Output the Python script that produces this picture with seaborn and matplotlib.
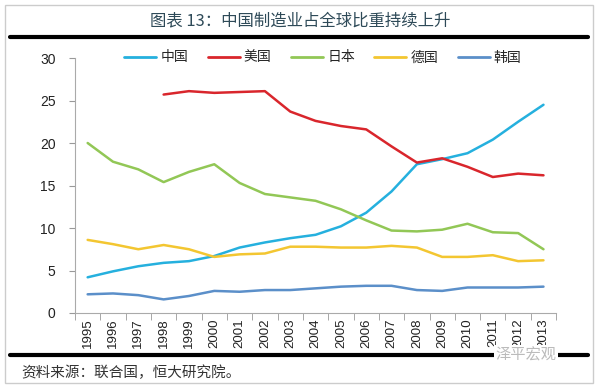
import pandas as pd
import numpy as np
import matplotlib.pyplot as plt
import seaborn as sns
from matplotlib.lines import Line2D
from matplotlib.patches import Rectangle

# 数据
years = [str(y) for y in range(1995, 2014)]
china = [4.2, 4.9, 5.5, 5.9, 6.1, 6.7, 7.7, 8.3, 8.8, 9.2, 10.2, 11.8, 14.3, 17.5, 18.1, 18.8, 20.4, 22.5, 24.5]
usa = [np.nan, np.nan, np.nan, 25.7, 26.1, 25.9, 26.0, 26.1, 23.7, 22.6, 22.0, 21.6, 19.6, 17.7, 18.2, 17.2, 16.0, 16.4, 16.2]
japan = [20.0, 17.8, 16.9, 15.4, 16.6, 17.5, 15.3, 14.0, 13.6, 13.2, 12.2, 10.9, 9.7, 9.6, 9.8, 10.5, 9.5, 9.4, 7.5]
germany = [8.6, 8.1, 7.5, 8.0, 7.5, 6.6, 6.9, 7.0, 7.8, 7.8, 7.7, 7.7, 7.9, 7.7, 6.6, 6.6, 6.8, 6.1, 6.2]
korea = [2.2, 2.3, 2.1, 1.6, 2.0, 2.6, 2.5, 2.7, 2.7, 2.9, 3.1, 3.2, 3.2, 2.7, 2.6, 3.0, 3.0, 3.0, 3.1]

names = ['中国', '美国', '日本', '德国', '韩国']
colors = ['#25b0de', '#d9262c', '#92c756', '#f3c631', '#5b8fc9']

df = pd.DataFrame({'年份': years, '中国': china, '美国': usa, '日本': japan, '德国': germany, '韩国': korea})
long = df.melt(id_vars='年份', var_name='国家', value_name='比重')
long['pos'] = long['年份'].astype(int) - 1995

sns.set_style('white')
plt.rcParams['font.family'] = ['Noto Sans CJK SC', 'DejaVu Sans']

fig = plt.figure(figsize=(5.98, 3.88), dpi=100)
ax = fig.add_axes([0.1254, 0.1933, 0.8046, 0.6572])

sns.lineplot(data=long, x='pos', y='比重', hue='国家', hue_order=names,
             palette=colors, linewidth=1.8, ax=ax, legend=False)

ax.set_xlim(-0.5, 18.5)
ax.set_ylim(0, 30)
ax.set_yticks(range(0, 31, 5))
ax.set_xticks(range(19))
ax.set_xticklabels(years, rotation=90, fontsize=9.5, color='#222222', family='Liberation Sans')
ax.set_xticks(np.arange(-0.5, 19, 1), minor=True)
ax.tick_params(axis='x', which='major', length=0, pad=4)
ax.tick_params(axis='x', which='minor', length=5, color='#999999', direction='out', bottom=True)
ax.tick_params(axis='y', length=4, color='#999999', direction='out', left=True, labelsize=10, pad=10)
for lab in ax.get_yticklabels():
    lab.set_family('Liberation Sans')
    lab.set_color('#222222')
ax.set_xlabel('')
ax.set_ylabel('')
sns.despine(ax=ax)
ax.spines['left'].set_color('#aaaaaa')
ax.spines['bottom'].set_color('#aaaaaa')

handles = [Line2D([0], [0], color=c, lw=2) for c in colors]
fig.legend(handles, names, loc='center', bbox_to_anchor=(0.54, 0.852), ncol=5,
           frameon=False, fontsize=10, handlelength=2.3, handletextpad=0.3, columnspacing=1.4)

# 外框、标题与横线
fig.patches.append(Rectangle((0.009, 0.013), 0.982, 0.974, transform=fig.transFigure,
                             fill=False, edgecolor='#cccccc', linewidth=1))
fig.text(0.502, 0.945, '图表 13：中国制造业占全球比重持续上升', ha='center', va='center',
         fontsize=11.8, color='#2e4a58')
fig.add_artist(Line2D([0.017, 0.983], [0.905, 0.905], color='black', lw=3, transform=fig.transFigure))
fig.add_artist(Line2D([0.017, 0.983], [0.085, 0.085], color='black', lw=3, transform=fig.transFigure))
fig.text(0.035, 0.04, '资料来源：联合国，恒大研究院。', ha='left', va='center',
         fontsize=10.5, style='italic', color='#333333')
fig.text(0.88, 0.085, '泽平宏观', ha='center', va='center', fontsize=11, color='#bbbbbb',
         bbox=dict(facecolor='white', edgecolor='none', pad=1))

fig.savefig('out.png', dpi=100)
